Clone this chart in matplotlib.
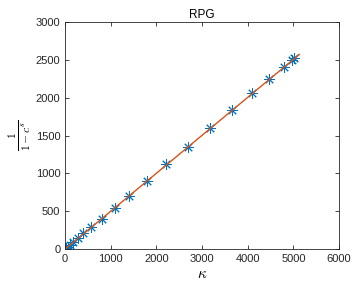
import matplotlib.pyplot as plt

plt.rcParams['font.family'] = ['Liberation Sans', 'DejaVu Sans']
plt.rcParams['mathtext.fontset'] = 'cm'

# measured points (kappa, 1/(1-c^s))
kappa = [20, 55, 105, 182, 278, 401, 575, 800, 1090, 1400, 1790, 2210,
         2690, 3180, 3650, 4100, 4470, 4790, 4960, 5020]
inv_val = [12, 30, 55, 89, 141, 213, 298, 400, 546, 700, 899, 1119,
           1352, 1599, 1837, 2058, 2247, 2401, 2498, 2525]

# fitted line
fit_x = [0, 5130]
fit_y = [0, 2573]

axis_col = '#262626'

fig = plt.figure(figsize=(3.54, 2.87), dpi=100)
ax = fig.add_axes([0.184, 0.132, 0.774, 0.791])

ax.plot(kappa, inv_val, linestyle='none', marker=(8, 2, 0), markersize=7.5,
        markeredgewidth=0.7, color='#0072BD')
ax.plot(fit_x, fit_y, color='#D95319', linewidth=1.0)

ax.set_xlim(0, 6000)
ax.set_ylim(0, 3000)
ax.set_xticks(range(0, 6001, 1000))
ax.set_yticks(range(0, 3001, 500))
ax.tick_params(direction='in', top=True, right=True, labelsize=8,
               colors=axis_col, length=3, width=0.6)
for s in ax.spines.values():
    s.set_color(axis_col)
    s.set_linewidth(0.6)

ax.set_title('RPG', fontsize=8.5, color='black', pad=3)
ax.set_xlabel(r'$\kappa$', fontsize=11, labelpad=2)
ax.set_ylabel(r'$\frac{1}{1-c^s}$', fontsize=12, labelpad=2)

fig.savefig('out.png', dpi=100)
